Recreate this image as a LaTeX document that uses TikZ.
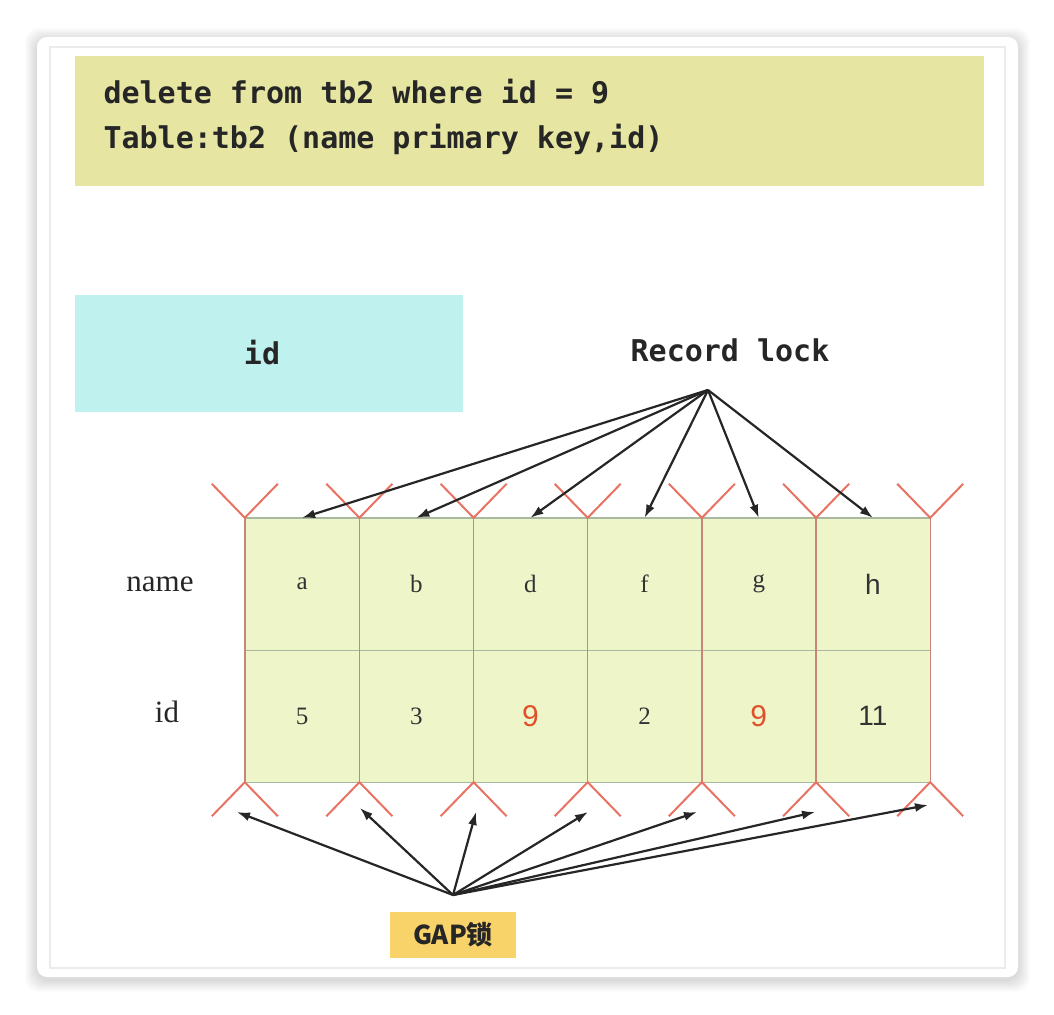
\documentclass[tikz,border=0pt]{standalone}
\usepackage{fontspec}
\setmainfont{Liberation Serif}
\setmonofont{DejaVu Sans Mono}
\newfontfamily\sansf{Liberation Sans}
\newfontfamily\cjk{Noto Sans CJK SC}
\usetikzlibrary{arrows.meta}

\definecolor{sqlfondo}{HTML}{E6E6A2}
\definecolor{idfondo}{HTML}{BFF1EF}
\definecolor{celdafondo}{HTML}{EEF5C9}
\definecolor{lineav}{HTML}{C9857A}
\definecolor{lineah}{HTML}{A9B9A0}
\definecolor{marcaroja}{HTML}{E87362}
\definecolor{gapfondo}{HTML}{F8D36A}
\definecolor{rojonum}{HTML}{E0502A}

\begin{document}
\begin{tikzpicture}[x=1pt, y=-1pt,
        celda/.style={fill=celdafondo, minimum width=114.2pt, minimum height=132pt, inner sep=0pt, text=black!80, font=\fontsize{25}{25}\selectfont},
        mono/.style={font=\ttfamily\bfseries\fontsize{30}{45}\selectfont, text=black!85},
        flecha/.style={draw=black!85, line width=2.2pt, -{Latex[length=13pt,width=9pt]}},
        marca/.style={draw=marcaroja, line width=2pt},
        rotulo/.style={font=\fontsize{31}{31}\selectfont, text=black!85}
    ]
        \useasboundingbox (0,0) rectangle (1054,1014);

        % Tarjeta
        \foreach \s in {1,...,12}
            \fill[black, opacity=0.012, rounded corners=14pt] (37-\s,37-\s+3) rectangle (1018+\s,977+\s+3);
        \fill[white, rounded corners=10pt] (37,37) rectangle (1018,977);
        \draw[black!8, line width=1.2pt] (50,47) rectangle (1005,968);

        % Cajas de texto
        \fill[sqlfondo] (75,56) rectangle (984,186);
        \node[mono, anchor=west, align=left] (sql) at (100,117) {delete from tb2 where id = 9\\Table:tb2 (name primary key,id)};
        \fill[idfondo] (75,295) rectangle (463,412);
        \node[mono] (id) at (262,353) {id};
        \node[mono] (rec) at (730,350) {Record lock};
        \coordinate (rl) at (708,390);

        % Tabla
        \node[celda] (n1) at (302.1,584) {a};
        \node[celda] (n2) at (416.3,584) {b};
        \node[celda] (n3) at (530.4,584) {d};
        \node[celda] (n4) at (644.6,584) {f};
        \node[celda] (n5) at (758.8,584) {g};
        \node[celda, font=\sansf\fontsize{28}{28}\selectfont] (n6) at (872.9,584) {\raisebox{-5pt}{h}};
        \node[celda] (i1) at (302.1,716) {5};
        \node[celda] (i2) at (416.3,716) {3};
        \node[celda, text=rojonum, font=\sansf\fontsize{30}{30}\selectfont] (i3) at (530.4,716) {9};
        \node[celda] (i4) at (644.6,716) {2};
        \node[celda, text=rojonum, font=\sansf\fontsize{30}{30}\selectfont] (i5) at (758.8,716) {9};
        \node[celda, font=\sansf\fontsize{28}{28}\selectfont] (i6) at (872.9,716) {11};

        \node[rotulo] (name) at (160,584) {name};
        \node[rotulo] (idrow) at (167,712) {id};

        \draw[lineah, line width=1.4pt] (n1.north west) -- (n6.north east);
        \draw[lineah, line width=1.4pt] (n1.south west) -- (n6.south east);
        \draw[lineah, line width=1.4pt] (i1.south west) -- (i6.south east);
        \draw[lineav, line width=1.4pt] (n1.north west) -- (i1.south west);
        \draw[lineav, line width=1.4pt] (n1.north east) -- (i1.south east);
        \draw[lineav, line width=1.4pt] (n2.north east) -- (i2.south east);
        \draw[lineav, line width=1.4pt] (n3.north east) -- (i3.south east);
        \draw[lineav, line width=1.4pt] (n4.north east) -- (i4.south east);
        \draw[lineav, line width=1.4pt] (n5.north east) -- (i5.south east);
        \draw[lineav, line width=1.4pt] (n6.north east) -- (i6.south east);

        % Marcas
        \draw[marca] (n1.north west) ++(-33,-34) -- (n1.north west) -- ++(33,-34);
        \draw[marca] (n1.north east) ++(-33,-34) -- (n1.north east) -- ++(33,-34);
        \draw[marca] (n2.north east) ++(-33,-34) -- (n2.north east) -- ++(33,-34);
        \draw[marca] (n3.north east) ++(-33,-34) -- (n3.north east) -- ++(33,-34);
        \draw[marca] (n4.north east) ++(-33,-34) -- (n4.north east) -- ++(33,-34);
        \draw[marca] (n5.north east) ++(-33,-34) -- (n5.north east) -- ++(33,-34);
        \draw[marca] (n6.north east) ++(-33,-34) -- (n6.north east) -- ++(33,-34);
        \draw[marca] (i1.south west) ++(-33,34) -- (i1.south west) -- ++(33,34);
        \draw[marca] (i1.south east) ++(-33,34) -- (i1.south east) -- ++(33,34);
        \draw[marca] (i2.south east) ++(-33,34) -- (i2.south east) -- ++(33,34);
        \draw[marca] (i3.south east) ++(-33,34) -- (i3.south east) -- ++(33,34);
        \draw[marca] (i4.south east) ++(-33,34) -- (i4.south east) -- ++(33,34);
        \draw[marca] (i5.south east) ++(-33,34) -- (i5.south east) -- ++(33,34);
        \draw[marca] (i6.south east) ++(-33,34) -- (i6.south east) -- ++(33,34);

        % Record lock
        \draw[flecha] (rl) -- (n1.north);
        \draw[flecha] (rl) -- (n2.north);
        \draw[flecha] (rl) -- (n3.north);
        \draw[flecha] (rl) -- (n4.north);
        \draw[flecha] (rl) -- (n5.north);
        \draw[flecha] (rl) -- (n6.north);

        % GAP
        \node[fill=gapfondo, minimum width=126pt, minimum height=46pt, inner sep=0pt, font=\cjk\bfseries\fontsize{26}{26}\selectfont, text=black!85] (gap) at (453,935) {GAP锁};
        \coordinate (gp) at (453,895);
        \coordinate (g0) at (237,812);
        \coordinate (g1) at (360,808);
        \coordinate (g2) at (476,812);
        \coordinate (g3) at (588,812);
        \coordinate (g4) at (697,812);
        \coordinate (g5) at (815,812);
        \coordinate (g6) at (928,805);
        \draw[flecha] (gp) -- (g0);
        \draw[flecha] (gp) -- (g1);
        \draw[flecha] (gp) -- (g2);
        \draw[flecha] (gp) -- (g3);
        \draw[flecha] (gp) -- (g4);
        \draw[flecha] (gp) -- (g5);
        \draw[flecha] (gp) -- (g6);
    \end{tikzpicture}
\end{document}
